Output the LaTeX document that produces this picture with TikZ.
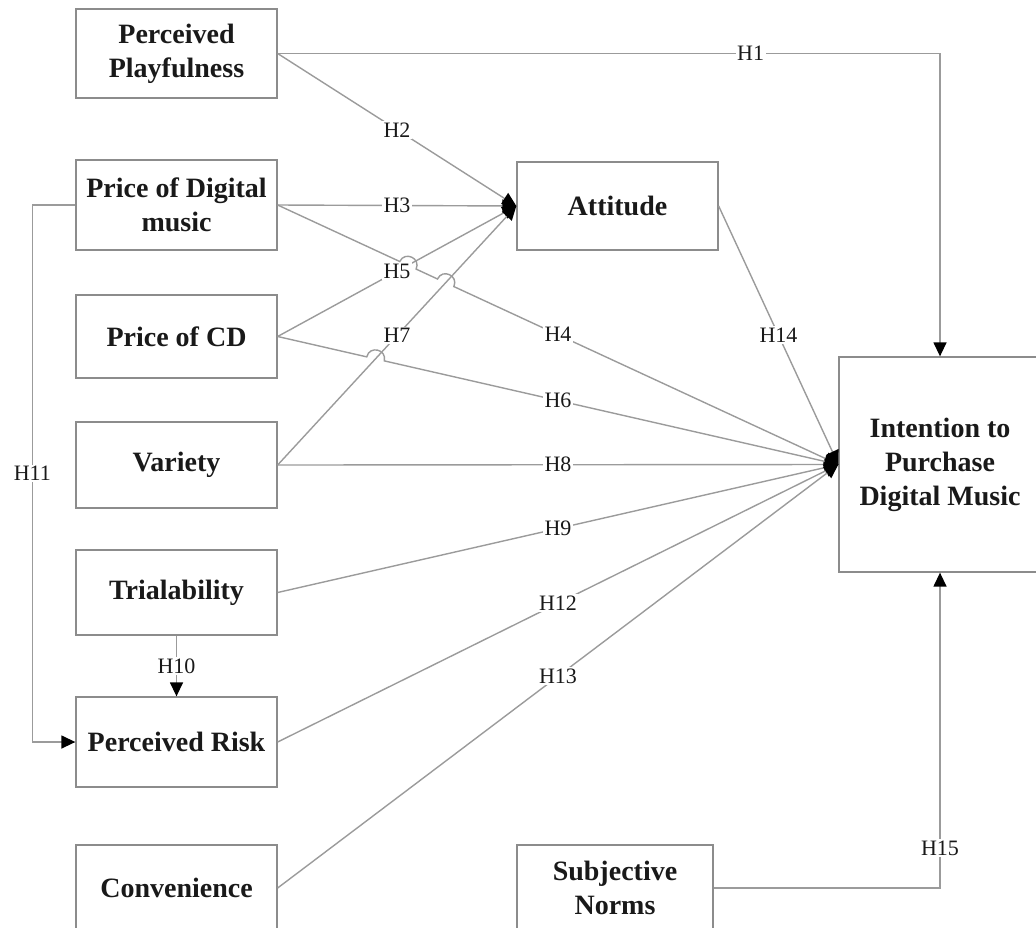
\documentclass[tikz,border=0pt]{standalone}
\usepackage{fontspec}
\setmainfont{Liberation Serif}
\usetikzlibrary{arrows.meta,calc}
\definecolor{lineg}{RGB}{155,155,155}
\definecolor{boxg}{RGB}{140,140,140}
\definecolor{txt}{RGB}{25,25,25}
\begin{document}
\begin{tikzpicture}[x=1pt,y=-1pt,
  box/.style={draw=boxg,line width=1.3pt,minimum width=201pt,align=center,
    font=\fontsize{28}{34}\selectfont\bfseries,text=txt,inner sep=0pt},
  conn/.style={draw=lineg,line width=1.4pt},
  arr/.style={conn,-{Triangle[length=14pt,width=13pt,color=black,fill=black]}},
  lbl/.style={fill=white,inner sep=1.5pt,font=\fontsize{22}{24}\selectfont,text=txt},
  hop/.style={bend left=90,looseness=1.7}]
\useasboundingbox (0,0) rectangle (1036,927);
% boxes
\node[box,minimum height=89pt] (PP) at (176.5,53.5) {Perceived\\Playfulness};
\node[box,minimum height=90pt] (PDM) at (176.5,205) {Price of Digital\\music};
\node[box,minimum height=83pt] (CD) at (176.5,336.5) {Price of CD};
\node[box,minimum height=86pt] (VAR) at (176.5,465) {Variety};
\node[box,minimum height=85pt] (TRI) at (176.5,592.5) {Trialability};
\node[box,minimum height=90pt] (PR) at (176.5,742) {Perceived Risk};
\node[box,minimum height=86pt] (CONV) at (176.5,888) {Convenience};
\node[box,minimum height=88pt] (ATT) at (617.5,206) {Attitude};
\node[box,minimum height=86pt,minimum width=196pt] (SN) at (615,888) {Subjective\\Norms};
\node[box,minimum height=215pt,minimum width=202pt] (INT) at (940,464.5) {Intention to\\Purchase\\Digital Music};
% crossing points
\coordinate (X1) at (intersection of PDM.east--INT.west and CD.east--ATT.west);
\coordinate (X2) at (intersection of PDM.east--INT.west and VAR.east--ATT.west);
\coordinate (X3) at (intersection of CD.east--INT.west and VAR.east--ATT.west);
% connectors
\draw[arr] (PP.east) -| node[lbl,pos=0.357]{H1} (INT.north);
\draw[arr] (PP.east) -- node[lbl]{H2} (ATT.west);
\draw[arr] (PDM.east) -- node[lbl]{H3} (ATT.west);
\draw[arr] (CD.east) -- node[lbl]{H5} (ATT.west);
\draw[arr] (VAR.east) -- node[lbl]{H7} (ATT.west);
\draw[arr] (VAR.east) -- node[lbl]{H8} (INT.west);
\draw[arr] (TRI.east) -- node[lbl]{H9} (INT.west);
\draw[arr] (PR.east) -- node[lbl]{H12} (INT.west);
\draw[arr] (CONV.east) -- node[lbl]{H13} (INT.west);
\draw[arr] (ATT.east) -- node[lbl]{H14} (INT.west);
\draw[arr] (TRI.south) -- node[lbl]{H10} (PR.north);
\draw[arr] (PDM.west) -- ++(-43,0) |- node[lbl,pos=0.25]{H11} (PR.west);
\draw[arr] (SN.east) -| node[lbl,pos=0.563]{H15} (INT.south);
\draw[arr] (PDM.east) -- ($(X1)!9pt!(PDM.east)$) to[hop] ($(X1)!9pt!(INT.west)$)
  -- ($(X2)!9pt!(PDM.east)$) to[hop] ($(X2)!9pt!(INT.west)$) -- (INT.west);
\draw[arr] (CD.east) -- ($(X3)!9pt!(CD.east)$) to[hop] ($(X3)!9pt!(INT.west)$) -- (INT.west);
\path (PDM.east) -- node[lbl]{H4} (INT.west);
\path (CD.east) -- node[lbl]{H6} (INT.west);
\end{tikzpicture}
\end{document}
